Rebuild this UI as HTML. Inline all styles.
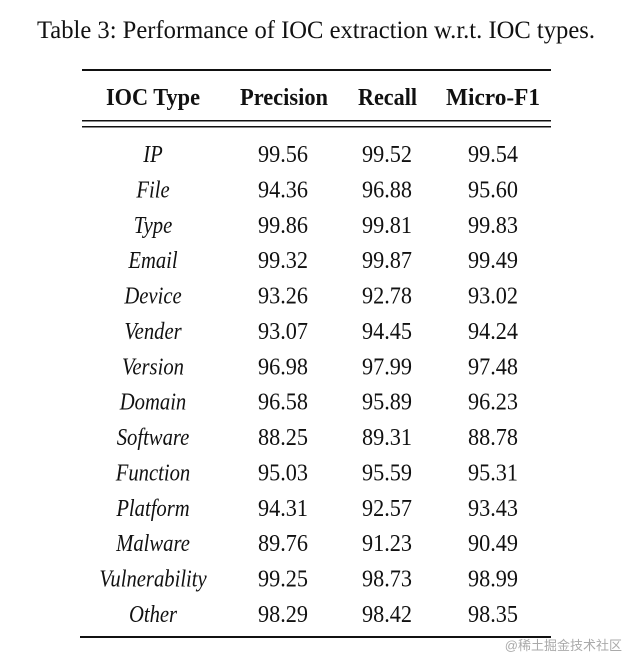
<!DOCTYPE html>
<html><head><meta charset="utf-8"><style>
html,body{margin:0;padding:0;background:#fff;}
svg{display:block;}
text{font-family:"Liberation Serif",serif;fill:#111;}
</style></head><body>
<svg id="tbl" width="625" height="657" xmlns="http://www.w3.org/2000/svg">
<text x="37" y="38" font-size="25" textLength="558" lengthAdjust="spacingAndGlyphs">Table 3: Performance of IOC extraction w.r.t. IOC types.</text>
<rect x="82" y="69" width="469" height="2" fill="#111"/>
<text x="106" y="105" font-size="24" font-weight="bold" textLength="94" lengthAdjust="spacingAndGlyphs">IOC Type</text>
<text x="240" y="105" font-size="24" font-weight="bold" textLength="88" lengthAdjust="spacingAndGlyphs">Precision</text>
<text x="358" y="105" font-size="24" font-weight="bold" textLength="59" lengthAdjust="spacingAndGlyphs">Recall</text>
<text x="446" y="105" font-size="24" font-weight="bold" textLength="94" lengthAdjust="spacingAndGlyphs">Micro-F1</text>
<rect x="82" y="120" width="469" height="1.5" fill="#111"/>
<rect x="82" y="126" width="469" height="1.5" fill="#111"/>
<rect x="80" y="636" width="471" height="2" fill="#111"/>
<text x="622" y="650" font-size="13" text-anchor="end" style="fill:#aaa;font-family:'Liberation Sans','Noto Sans CJK SC',sans-serif">@稀土掘金技术社区</text>
<g id="rows"></g>
</svg>
<script>
const types=["IP","File","Type","Email","Device","Vender","Version","Domain","Software","Function","Platform","Malware","Vulnerability","Other"];
const precision=["99.56","94.36","99.86","99.32","93.26","93.07","96.98","96.58","88.25","95.03","94.31","89.76","99.25","98.29"];
const recall=["99.52","96.88","99.81","99.87","92.78","94.45","97.99","95.89","89.31","95.59","92.57","91.23","98.73","98.42"];
const microF1=["99.54","95.60","99.83","99.49","93.02","94.24","97.48","96.23","88.78","95.31","93.43","90.49","98.99","98.35"];
const NS="http://www.w3.org/2000/svg";
const g=document.getElementById('rows');
const y0=162, dy=35.38;
function mk(txt,cx,y,italic,w){
  const t=document.createElementNS(NS,'text');
  t.textContent=txt;
  t.setAttribute('font-size','24');
  if(italic){
    t.setAttribute('font-style','italic');
    t.setAttribute('text-anchor','middle');
    t.setAttribute('transform','translate('+cx+','+y+') scale(0.86,1)');
  } else {
    t.setAttribute('x',cx-w/2);
    t.setAttribute('y',y);
    t.setAttribute('textLength',w);
    t.setAttribute('lengthAdjust','spacingAndGlyphs');
  }
  return t;
}
types.forEach((tp,i)=>{
  const y=y0+i*dy;
  const a=mk(tp,153,y,true,0);
  
  
  g.appendChild(a);
  const b=mk(precision[i],283,y,false,50);
  
  
  g.appendChild(b);
  const c=mk(recall[i],387,y,false,50);
  
  
  g.appendChild(c);
  const d=mk(microF1[i],493,y,false,50);
  
  
  g.appendChild(d);
});
</script>
</body></html>
